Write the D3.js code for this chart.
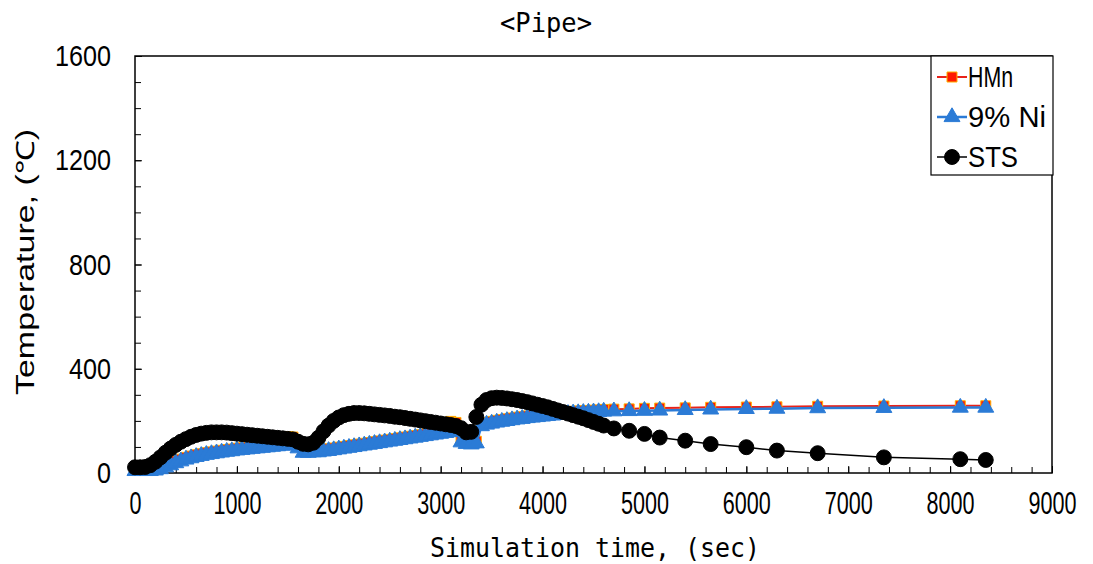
<!DOCTYPE html>
<html>
<head>
<meta charset="utf-8">
<script src="https://cdn.jsdelivr.net/npm/d3@7"></script>
<style>
  body { margin: 0; background: #fff; }
  svg { display: block; }
  .tick-label { font-family: 'Liberation Sans Narrow', 'Liberation Sans', sans-serif; font-stretch: condensed; }
</style>
</head>
<body>
<svg id="chart" width="1093" height="564"></svg>
<script>
// time axis (sec) shared by all three series
const timeSec = [
  0, 50, 100, 150, 200, 250, 300, 350, 400, 450, 500, 550, 600, 650, 700, 750, 800, 850, 900, 950,
  1000, 1050, 1100, 1150, 1200, 1250, 1300, 1350, 1400, 1450, 1500, 1550, 1600, 1650, 1700, 1750,
  1800, 1850, 1900, 1950, 2000, 2050, 2100, 2150, 2200, 2250, 2300, 2350, 2400, 2450, 2500, 2550,
  2600, 2650, 2700, 2750, 2800, 2850, 2900, 2950, 3000, 3050, 3100, 3150, 3200, 3250, 3300, 3350,
  3400, 3450, 3500, 3550, 3600, 3650, 3700, 3750, 3800, 3850, 3900, 3950, 4000, 4050, 4100, 4150,
  4200, 4250, 4300, 4350, 4400, 4450, 4500, 4550,
  4600, 4700, 4850, 5000, 5150, 5400, 5650, 6000, 6300, 6700, 7350, 8100, 8350
];

const hmn = [
  14, 14, 14, 15, 18, 23, 30, 38, 46, 53, 60, 65, 70, 74, 78, 81, 84, 87, 90, 92,
  95, 97, 99, 101, 103, 105, 107, 110, 116, 132, 140, 138, 105, 86, 86, 88,
  88, 91, 93, 96, 99, 102, 105, 108, 111, 114, 117, 120, 123, 126, 129, 132,
  135, 138, 141, 144, 147, 150, 153, 160, 178, 192, 198, 194, 126, 120, 118, 122,
  188, 194, 198, 202, 205, 208, 211, 214, 216, 219, 221, 223, 225, 227, 229, 231,
  233, 235, 237, 238, 239, 240, 241, 242,
  244, 245, 246, 248, 249, 250, 252, 253, 254, 256, 257, 258, 258
];

const ni = [
  8, 8, 8, 8, 10, 15, 22, 30, 38, 45, 52, 57, 62, 66, 70, 73, 76, 79, 82, 84,
  87, 89, 91, 93, 95, 97, 99, 101, 103, 105, 107, 108, 95, 78, 78, 80,
  80, 83, 85, 88, 91, 94, 97, 100, 103, 106, 109, 112, 115, 118, 121, 124,
  127, 130, 133, 136, 139, 142, 145, 148, 151, 154, 157, 160, 118, 112, 110, 114,
  180, 186, 190, 194, 197, 200, 203, 206, 208, 211, 213, 215, 217, 219, 221, 223,
  225, 227, 229, 230, 231, 232, 233, 234,
  236, 237, 238, 239, 240, 242, 244, 246, 247, 249, 250, 251, 251
];

const sts = [
  22, 22, 23, 30, 43, 60, 78, 94, 108, 120, 130, 139, 146, 151, 154, 156, 156, 156, 155, 153,
  151, 149, 147, 145, 143, 141, 139, 137, 135, 133, 131, 129, 120, 112, 110, 116,
  135, 160, 182, 200, 213, 222, 227, 230, 230, 229, 227, 225, 223, 221, 219, 216,
  214, 211, 208, 205, 202, 199, 196, 193, 190, 187, 184, 180, 172, 156, 158, 215,
  262, 280, 287, 289, 288, 286, 283, 280, 276, 272, 267, 262, 257, 252, 246, 240,
  234, 228, 222, 216, 210, 203, 196, 189,
  182, 171, 162, 150, 136, 124, 111, 99, 86, 76, 60, 53, 50
];

const seriesNames = ["HMn", "9% Ni", "STS"];
const xTicks = [0, 1000, 2000, 3000, 4000, 5000, 6000, 7000, 8000, 9000];
const yTicks = [0, 400, 800, 1200, 1600];

const svg = d3.select("#chart");
const plotLeft = 135, plotRight = 1052, plotTop = 56, plotBottom = 473;

const x = d3.scaleLinear().domain([0, 9000]).range([plotLeft, plotRight]);
const y = d3.scaleLinear().domain([0, 1600]).range([plotBottom, plotTop]);

// plot frame
svg.append("rect")
  .attr("x", plotLeft).attr("y", plotTop)
  .attr("width", plotRight - plotLeft).attr("height", plotBottom - plotTop)
  .attr("fill", "none").attr("stroke", "#000").attr("stroke-width", 1.5);

// minor ticks (inside)
svg.append("g")
  .attr("transform", `translate(0,${plotBottom})`)
  .call(d3.axisBottom(x).tickValues(d3.range(0, 9001, 200)).tickSizeInner(-6).tickSizeOuter(0).tickFormat(""))
  .call(g => g.select(".domain").remove())
  .call(g => g.selectAll("line").attr("stroke", "#000"));
svg.append("g")
  .attr("transform", `translate(${plotLeft},0)`)
  .call(d3.axisLeft(y).tickValues(d3.range(0, 1601, 100)).tickSizeInner(-6).tickSizeOuter(0).tickFormat(""))
  .call(g => g.select(".domain").remove())
  .call(g => g.selectAll("line").attr("stroke", "#000"));

// major tick labels
const xAxis = svg.append("g")
  .attr("transform", `translate(0,${plotBottom})`)
  .call(d3.axisBottom(x).tickValues(xTicks).tickSizeInner(-7).tickSizeOuter(0).tickPadding(19).tickFormat(d3.format("d")));
xAxis.select(".domain").remove();
xAxis.selectAll("line").attr("stroke", "#000");
xAxis.selectAll("text")
  .attr("class", "tick-label")
  .attr("font-size", 31).attr("fill", "#000")
  .attr("textLength", d => String(d).length * 12)
  .attr("lengthAdjust", "spacingAndGlyphs");

const yAxis = svg.append("g")
  .attr("transform", `translate(${plotLeft},0)`)
  .call(d3.axisLeft(y).tickValues(yTicks).tickSizeInner(-7).tickSizeOuter(0).tickPadding(24).tickFormat(d3.format("d")));
yAxis.select(".domain").remove();
yAxis.selectAll("line").attr("stroke", "#000");
yAxis.selectAll("text")
  .attr("class", "tick-label")
  .attr("font-size", 30).attr("fill", "#000")
  .attr("textLength", d => String(d).length * 14)
  .attr("lengthAdjust", "spacingAndGlyphs");

// titles
svg.append("text")
  .attr("x", 546).attr("y", 32)
  .attr("text-anchor", "middle")
  .attr("font-family", "DejaVu Sans Mono, monospace")
  .attr("font-size", 27)
  .attr("textLength", 92).attr("lengthAdjust", "spacingAndGlyphs")
  .text("<Pipe>");

svg.append("text")
  .attr("x", 595).attr("y", 557)
  .attr("text-anchor", "middle")
  .attr("font-family", "DejaVu Sans Mono, monospace")
  .attr("font-size", 26)
  .attr("textLength", 330).attr("lengthAdjust", "spacingAndGlyphs")
  .text("Simulation time, (sec)");

svg.append("text")
  .attr("transform", "translate(34,262) rotate(-90)")
  .attr("text-anchor", "middle")
  .attr("font-family", "Liberation Sans, sans-serif")
  .attr("font-size", 25)
  .attr("textLength", 266).attr("lengthAdjust", "spacingAndGlyphs")
  .text("Temperature, (℃)");

// series
const styles = [
  { values: hmn, line: "#e8221a", lw: 2, symbol: d3.symbolSquare, size: 100, fill: "#ff1a00", stroke: "#ffb000" },
  { values: ni, line: "#2b7bd6", lw: 2.5, symbol: d3.symbolTriangle, size: 110, fill: "#2b7bd6", stroke: "#2b7bd6" },
  { values: sts, line: "#000", lw: 1.5, symbol: d3.symbolCircle, size: 175, fill: "#000", stroke: "#000" }
];

const line = d3.line().x(d => x(d[0])).y(d => y(d[1]));

styles.forEach(s => {
  const pts = timeSec.map((t, i) => [t, s.values[i]]);
  svg.append("path")
    .datum(pts)
    .attr("d", line)
    .attr("fill", "none")
    .attr("stroke", s.line)
    .attr("stroke-width", s.lw);
  svg.append("g")
    .selectAll("path")
    .data(pts)
    .join("path")
    .attr("transform", d => `translate(${x(d[0])},${y(d[1])})`)
    .attr("d", d3.symbol().type(s.symbol).size(s.size))
    .attr("fill", s.fill)
    .attr("stroke", s.stroke)
    .attr("stroke-width", 1);
});

// legend
const lg = svg.append("g");
lg.append("rect")
  .attr("x", 931).attr("y", 56).attr("width", 122).attr("height", 119)
  .attr("fill", "#fff").attr("stroke", "#000").attr("stroke-width", 1.2);

const legendY = [77, 117, 157];
styles.forEach((s, i) => {
  const cy = legendY[i];
  lg.append("line")
    .attr("x1", 937).attr("x2", 967).attr("y1", cy).attr("y2", cy)
    .attr("stroke", s.line).attr("stroke-width", s.lw);
  lg.append("path")
    .attr("transform", `translate(952,${cy})`)
    .attr("d", d3.symbol().type(s.symbol).size(s.size))
    .attr("fill", s.fill).attr("stroke", s.stroke).attr("stroke-width", 1);
  lg.append("text")
    .attr("x", 968).attr("y", cy + 10)
    .attr("class", "tick-label")
    .attr("font-size", 29)
    .attr("textLength", [45, 78, 50][i]).attr("lengthAdjust", "spacingAndGlyphs")
    .text(seriesNames[i]);
});
</script>
</body>
</html>
